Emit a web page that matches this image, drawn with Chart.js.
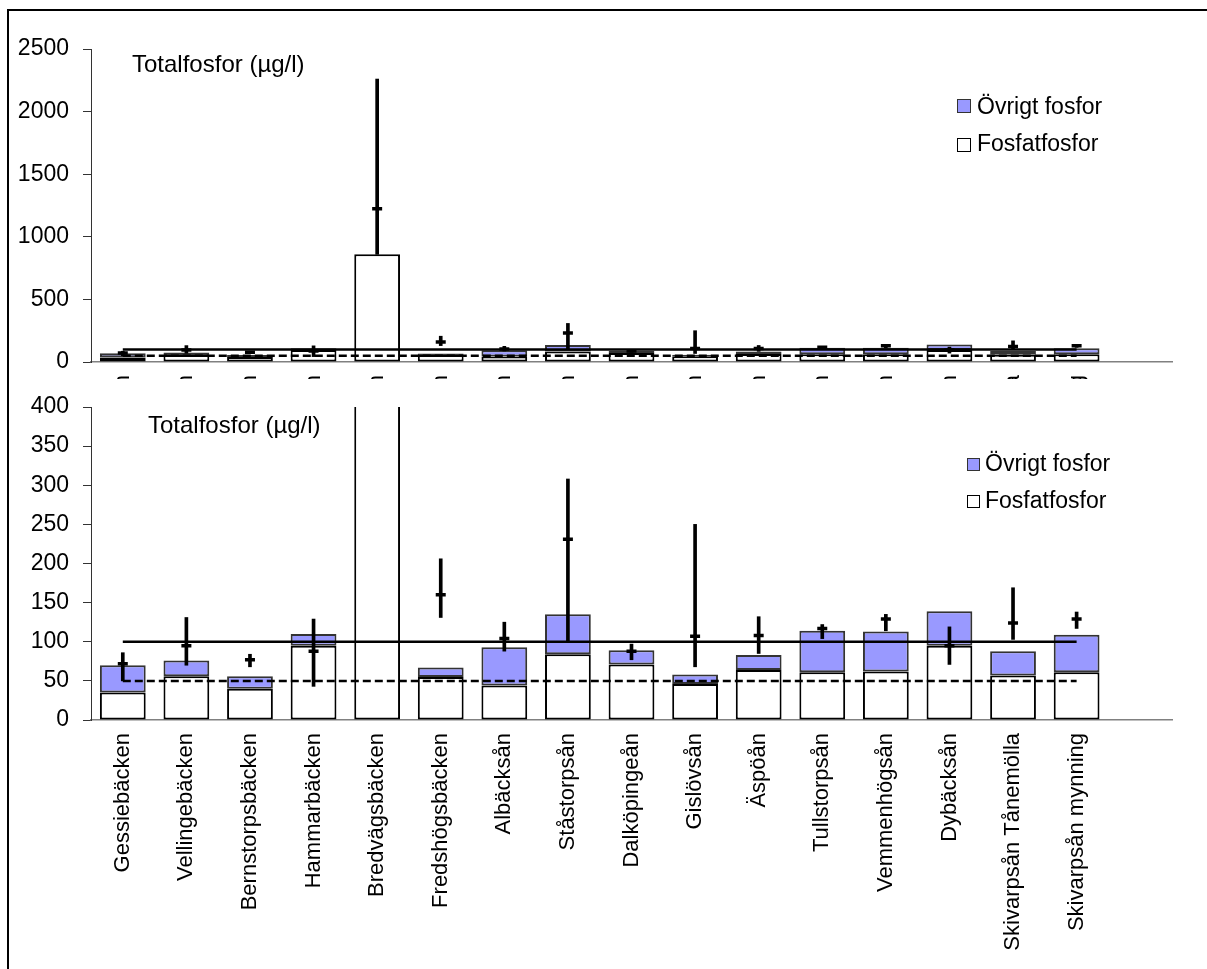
<!DOCTYPE html>
<html lang="sv">
<head>
<meta charset="utf-8">
<title>Totalfosfor</title>
<script src="https://cdn.jsdelivr.net/npm/chart.js@4.4.1/dist/chart.umd.min.js"></script>
<style>
    body { margin: 0; background: #fff; font-family: "Liberation Sans", Arial, sans-serif; color: #000; }
    #wrap { position: relative; width: 1207px; height: 969px; overflow: hidden; }
    canvas { position: absolute; left: 0; }
    #topChart { top: 0; }
    #bottomChart { top: 380px; }
    #frame { position: absolute; left: 7px; top: 9px; width: 1300px; height: 1100px; border: 2px solid #000; z-index: 5; pointer-events: none; }
    .title { position: absolute; font-size: 24px; line-height: 24px; white-space: nowrap; }
    .legend { position: absolute; font-size: 23px; line-height: 23px; white-space: nowrap; }
    .box { position: absolute; box-sizing: border-box; border: 1.5px solid #000; }
    .blue { background: #9999ff; border-color: #333; }
    .white { background: #fff; }
</style>
</head>
<body>
<div id="wrap">
    <canvas id="topChart" width="1207" height="379"></canvas>
    <canvas id="bottomChart" width="1207" height="589"></canvas>

    <div class="title" style="left:132px; top:52px;">Totalfosfor (µg/l)</div>
    <div class="box blue" style="left:957px; top:99px; width:14px; height:14px;"></div>
    <div class="legend" style="left:977px; top:95px;">Övrigt fosfor</div>
    <div class="box white" style="left:957px; top:138px; width:14px; height:14px;"></div>
    <div class="legend" style="left:977px; top:132px;">Fosfatfosfor</div>

    <div class="title" style="left:148px; top:413px;">Totalfosfor (µg/l)</div>
    <div class="box blue" style="left:967px; top:458px; width:13px; height:13px;"></div>
    <div class="legend" style="left:985px; top:452px;">Övrigt fosfor</div>
    <div class="box white" style="left:967px; top:495px; width:13px; height:13px;"></div>
    <div class="legend" style="left:985px; top:489px;">Fosfatfosfor</div>

    <div id="frame"></div>
</div>
<script>
// Vattendrag (sista kategorin är tom, ger luft till höger)
const vattendrag = ["Gessiebäcken", "Vellingebäcken", "Bernstorpsbäcken", "Hammarbäcken",
    "Bredvägsbäcken", "Fredshögsbäcken", "Albäcksån", "Ståstorpsån", "Dalköpingeån",
    "Gislövsån", "Äspöån", "Tullstorpsån", "Vemmenhögsån", "Dybäcksån",
    "Skivarpsån Tånemölla", "Skivarpsån mynning", ""];

// Staplar, µg/l
const fosfatfosfor = [35, 56, 40, 95, 860, 55, 44, 84, 71, 46, 64, 61, 62, 95, 57, 61];
const ovrigtFosfor = [35, 20, 16, 15, 0, 12, 49, 51, 18, 12, 19, 53, 51, 44, 31, 48];

// Medelvärde med min/max
const medel = [72, 95, 77, 88, 1225, 160, 104, 231, 88, 107, 108, 117, 129, 95, 124, 129];
const minVarde = [50, 70, 68, 43, 860, 131, 88, 101, 77, 68, 85, 104, 114, 71, 103, 117];
const maxVarde = [86, 131, 84, 129, 2260, 206, 125, 308, 97, 250, 132, 122, 135, 119, 169, 138];

// Gränsvärden
const gransHog = [100, 100, 100, 100, 100, 100, 100, 100, 100, 100, 100, 100, 100, 100, 100, 100];
const gransLag = [50, 50, 50, 50, 50, 50, 50, 50, 50, 50, 50, 50, 50, 50, 50, 50];

// Y-axlar
const topTicks = [0, 500, 1000, 1500, 2000, 2500];
const bottomTicks = [0, 50, 100, 150, 200, 250, 300, 350, 400];

Chart.defaults.font.family = '"Liberation Sans", Arial, sans-serif';
Chart.defaults.color = "#000";

function makeChart(id, yTicks, padTop, xHeight) {
    const yMax = yTicks[yTicks.length - 1];
    return new Chart(document.getElementById(id), {
        type: "bar",
        data: {
            labels: vattendrag,
            datasets: [
                {
                    label: "Fosfatfosfor",
                    data: fosfatfosfor,
                    backgroundColor: "#ffffff",
                    borderColor: "#000",
                    borderWidth: 2,
                    borderSkipped: false,
                    order: 3
                },
                {
                    label: "Övrigt fosfor",
                    data: ovrigtFosfor,
                    backgroundColor: "#9999ff",
                    borderColor: "#333",
                    borderWidth: 2,
                    borderSkipped: false,
                    order: 3
                },
                {
                    type: "line",
                    data: gransHog,
                    yAxisID: "ye",
                    borderColor: "#000",
                    borderWidth: 2.5,
                    pointRadius: 0,
                    order: 2
                },
                {
                    type: "line",
                    data: gransLag,
                    yAxisID: "ye",
                    borderColor: "#000",
                    borderWidth: 2.5,
                    borderDash: [8, 4],
                    pointRadius: 0,
                    order: 2
                },
                {
                    // min-max som smala flytande staplar
                    data: minVarde.map((v, i) => [v, maxVarde[i]]),
                    yAxisID: "ye",
                    grouped: false,
                    barThickness: 3,
                    backgroundColor: "#000",
                    borderWidth: 0,
                    order: 1
                },
                {
                    type: "line",
                    data: medel,
                    yAxisID: "ye",
                    showLine: false,
                    pointStyle: "line",
                    pointRadius: 5,
                    pointBorderWidth: 3.5,
                    borderColor: "#000",
                    order: 0
                }
            ]
        },
        options: {
            responsive: false,
            animation: false,
            layout: { padding: { top: padTop, right: 35, left: 0, bottom: 0 } },
            datasets: { bar: { categoryPercentage: 1, barPercentage: 0.72 } },
            plugins: { legend: { display: false }, tooltip: { enabled: false } },
            scales: {
                x: {
                    stacked: true,
                    grid: { display: false, drawTicks: false },
                    border: { color: "#808080", width: 1.5 },
                    ticks: { font: { size: 22 }, minRotation: 90, maxRotation: 90, autoSkip: false, padding: 13 },
                    afterFit: function(scale) { scale.height = xHeight; }
                },
                y: {
                    stacked: true,
                    min: 0,
                    max: yMax,
                    grid: { drawOnChartArea: false, drawTicks: true, tickLength: 8, color: "#333" },
                    border: { color: "#333", width: 1 },
                    ticks: {
                        font: { size: 23 },
                        padding: 14,
                        stepSize: yTicks[1] - yTicks[0],
                        callback: function(value) { return String(value); }
                    },
                    afterFit: function(scale) {
                        scale.width = 91;
                        scale.paddingTop = 0;
                        scale.paddingBottom = 0;
                    }
                },
                ye: {
                    type: "linear",
                    display: false,
                    min: 0,
                    max: yMax
                }
            }
        }
    });
}

document.addEventListener("DOMContentLoaded", function() {
    // Övre diagrammet: hela skalan
    makeChart("topChart", topTicks, 49, 17);
    // Nedre diagrammet: inzoomat 0-400
    makeChart("bottomChart", bottomTicks, 27, 249);
});
</script>
</body>
</html>
